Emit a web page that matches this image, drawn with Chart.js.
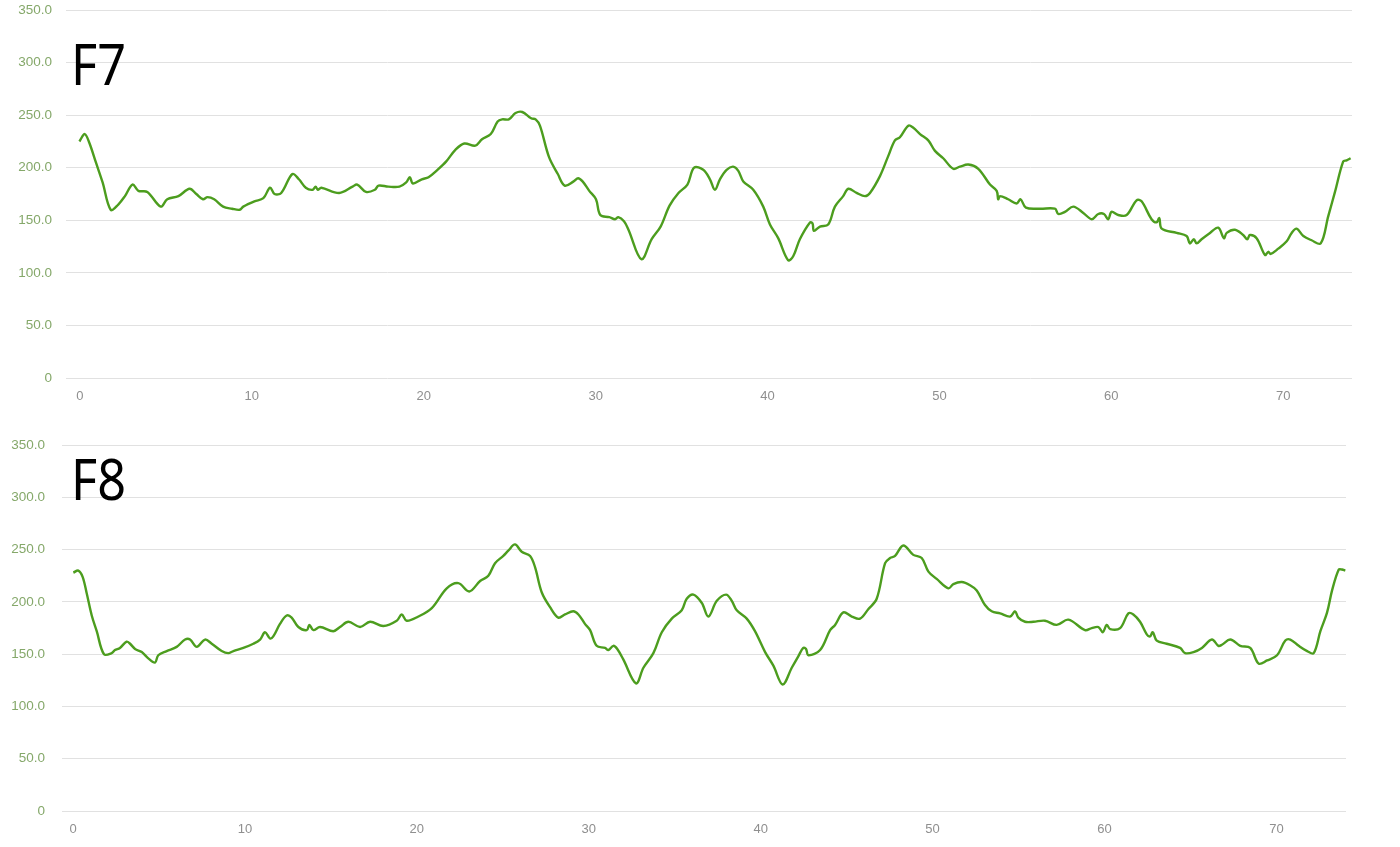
<!DOCTYPE html>
<html>
<head>
<meta charset="utf-8">
<script src="https://cdn.jsdelivr.net/npm/chart.js@4/dist/chart.umd.min.js"></script>
<style>
  html, body { margin: 0; padding: 0; background: #ffffff; }
  body { width: 1400px; height: 847px; position: relative; overflow: hidden; }
  .panel { position: absolute; left: 0; width: 1400px; }
  .label { position: absolute; left: 71px; font-family: "Noto Sans", "Open Sans", sans-serif; font-size: 56px; line-height: 56px; color: #000; transform-origin: 0 0; transform: scaleX(0.9); white-space: nowrap; }
</style>
</head>
<body>
<div class="panel" style="top:-14px;height:434px;"><canvas id="c1" width="1400" height="434"></canvas></div>
<div class="panel" style="top:420px;height:427px;"><canvas id="c2" width="1400" height="427"></canvas></div>
<div class="label" style="top:35px;">F7</div>
<div class="label" style="top:450px;">F8</div>
<script>
// ---- data ----
const xTickValues = [0, 10, 20, 30, 40, 50, 60, 70];
const yTickValues = [0, 50, 100, 150, 200, 250, 300, 350];

const f7Distance = [-0.03,0.28,0.54,0.93,1.32,1.79,2.23,2.62,3.06,3.4,3.92,4.7,5.08,5.73,6.38,6.77,7.16,7.42,7.81,8.33,8.85,9.29,9.5,10.15,10.67,11.06,11.32,11.71,12.36,12.74,13.14,13.53,13.71,13.84,14.04,15.08,15.86,16.13,16.64,17.16,17.37,17.94,18.59,18.98,19.19,19.37,19.89,20.28,20.8,21.31,21.84,22.36,23.0,23.39,23.9,24.3,24.56,24.95,25.34,25.73,26.25,26.51,26.76,27.29,27.8,28.2,28.72,28.98,29.24,29.63,30.02,30.27,30.8,31.13,31.32,31.65,31.91,32.66,33.26,33.78,34.3,34.82,35.34,35.73,36.26,36.65,36.94,37.23,37.62,38.0,38.3,38.59,39.17,39.75,40.14,40.62,41.2,41.5,41.88,42.47,42.62,42.7,43.05,43.53,43.92,44.4,44.7,45.18,45.67,45.96,46.54,47.02,47.41,47.7,48.19,48.48,48.87,49.35,49.74,50.22,50.8,51.19,51.68,52.26,52.94,53.33,53.42,53.52,54.0,54.49,54.72,55.03,55.85,56.72,56.91,57.3,57.79,58.37,58.86,59.24,59.57,59.82,60.01,60.4,60.89,61.47,61.76,62.34,62.63,62.79,62.93,63.8,64.38,64.57,64.8,64.96,65.25,65.74,66.22,66.55,66.71,67.19,67.67,67.91,68.06,68.45,68.94,69.13,69.27,69.71,70.2,70.49,70.78,71.17,71.65,72.18,72.62,73.01,73.49,73.69,73.92];
const f7Values = [225,232,224,205,186,160,165,173,184,178,177,163,170,173,180,175,170,172,170,163,161,160,163,168,171,181,175,176,194,189,181,179,182,179,181,176,182,184,177,179,183,182,182,186,191,185,189,191,198,206,217,223,221,227,232,244,246,246,252,253,247,246,240,210,194,183,187,190,187,178,170,155,153,151,153,149,141,113,132,144,164,176,184,200,198,189,179,189,198,201,197,187,179,163,146,133,112,116,132,148,147,140,144,146,163,173,180,176,173,176,192,211,226,229,240,238,232,226,216,209,199,201,203,199,184,178,170,173,170,166,170,162,161,161,156,158,163,157,151,156,156,151,158,155,155,169,168,151,148,152,142,138,135,128,132,128,132,138,143,133,138,141,136,132,136,133,117,120,118,123,130,138,142,135,131,128,154,177,206,207,209];

const f8Distance = [0.02,0.31,0.56,0.8,1.09,1.38,1.8,2.25,2.44,2.73,3.12,3.32,3.61,4.0,4.38,4.77,4.96,5.45,6.03,6.52,6.81,7.2,7.68,8.07,8.65,9.03,9.33,9.91,10.49,10.88,11.17,11.46,11.65,12.04,12.43,12.72,13.11,13.6,13.75,13.98,14.37,15.14,15.53,16.02,16.7,17.28,18.05,18.83,19.12,19.41,20.09,20.87,21.74,22.41,23.05,23.68,24.16,24.55,25.03,25.32,25.71,26.1,26.59,26.88,27.27,27.75,28.23,28.62,29.1,29.4,29.78,30.08,30.46,30.95,31.14,31.43,31.66,32.01,32.75,33.18,33.76,34.25,34.83,35.41,35.7,36.09,36.58,36.96,37.45,37.99,38.32,38.61,39.19,39.67,40.26,40.74,41.28,41.81,42.19,42.48,42.64,42.78,43.46,44.04,44.33,44.81,45.3,45.78,46.26,46.75,47.24,47.53,47.82,48.3,48.88,49.37,49.76,50.24,50.92,51.21,51.7,52.18,52.57,53.05,53.44,53.93,54.51,54.8,54.99,55.38,55.87,56.54,57.22,57.9,58.87,59.26,59.65,59.9,60.13,60.33,60.91,61.39,61.68,62.07,62.46,62.65,62.81,63.04,63.62,64.4,64.69,65.18,65.67,66.25,66.63,66.83,67.32,67.9,68.48,68.97,69.46,70.04,70.52,70.81,71.3,71.79,72.17,72.56,72.95,73.24,73.63,73.82,74.01];
const f8Values = [228,230,224,208,187,172,150,151,154,156,162,160,155,152,146,142,149,153,157,164,164,157,164,160,153,151,153,156,160,164,171,165,167,179,187,185,176,173,178,173,176,172,176,181,176,181,177,182,188,182,186,194,213,218,210,220,225,237,244,249,255,248,244,233,209,195,185,188,191,188,179,173,158,156,154,158,155,145,122,137,151,171,184,192,203,207,199,186,201,207,201,192,184,172,152,139,121,137,148,156,155,149,154,173,178,190,186,184,193,203,237,242,244,254,245,242,229,222,213,217,219,216,211,197,191,189,186,191,185,181,181,182,178,183,173,175,176,171,178,174,175,189,188,181,169,167,171,163,160,156,151,152,156,164,158,159,164,158,156,141,144,149,163,164,158,153,151,172,190,211,231,231,230];

// ---- styling ----
const LINE_COLOR = '#4c9d1e';
const GRID_COLOR = '#e1e1e1';
const Y_TICK_COLOR = '#85a86a';
const X_TICK_COLOR = '#8f8f8f';
const FONT_FAMILY = '"Liberation Sans", Arial, sans-serif';

function toPoints(xs, ys) {
  return xs.map((x, i) => ({ x: x, y: ys[i] }));
}

function makeChart(canvasId, xs, ys, cfg) {
  const ctx = document.getElementById(canvasId).getContext('2d');
  return new Chart(ctx, {
    type: 'line',
    data: {
      datasets: [{
        data: toPoints(xs, ys),
        borderColor: LINE_COLOR,
        borderWidth: 2.4,
        pointRadius: 0,
        tension: 0.35,
        fill: false
      }]
    },
    options: {
      responsive: false,
      animation: false,
      devicePixelRatio: 1,
      layout: { padding: { top: cfg.padTop, right: cfg.padRight, bottom: 0, left: 0 } },
      plugins: { legend: { display: false }, tooltip: { enabled: false } },
      scales: {
        x: {
          type: 'linear',
          min: cfg.xMin,
          max: cfg.xMax,
          grid: { display: false },
          border: { display: false },
          afterBuildTicks: (axis) => { axis.ticks = xTickValues.map(v => ({ value: v })); },
          afterFit: (axis) => { axis.height = cfg.xHeight; },
          ticks: {
            color: X_TICK_COLOR,
            font: { family: FONT_FAMILY, size: 13 },
            padding: 3,
            maxRotation: 0,
            autoSkip: false,
            callback: (v) => String(v)
          }
        },
        y: {
          min: 0,
          max: 350,
          grid: { color: GRID_COLOR, lineWidth: 1, drawTicks: false },
          border: { display: false },
          afterBuildTicks: (axis) => { axis.ticks = yTickValues.map(v => ({ value: v })); },
          afterFit: (axis) => { axis.width = cfg.yWidth; },
          ticks: {
            color: Y_TICK_COLOR,
            font: { family: FONT_FAMILY, size: 13.5 },
            padding: cfg.yPad,
            callback: (v) => v === 0 ? '0' : v.toFixed(1)
          }
        }
      }
    }
  });
}

makeChart('c1', f7Distance, f7Values, { padTop: 24, padRight: 48, xMin: -0.81, xMax: 74.0, xHeight: 42, yWidth: 66, yPad: 14 });
makeChart('c2', f8Distance, f8Values, { padTop: 23, padRight: 54, xMin: -0.64, xMax: 74.05, xHeight: 36, yWidth: 62, yPad: 17 });
</script>
</body>
</html>
